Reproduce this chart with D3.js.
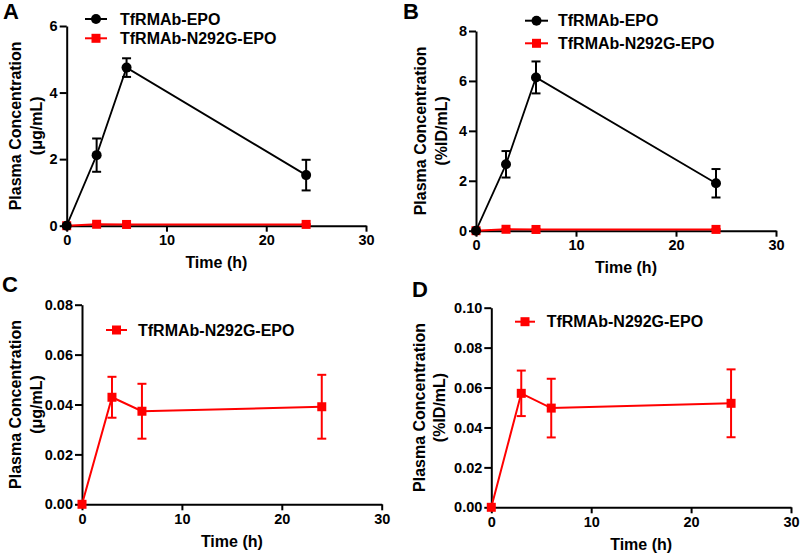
<!DOCTYPE html>
<html>
<head>
<meta charset="utf-8">
<script src="https://cdn.jsdelivr.net/npm/d3@7"></script>
<style>
  html, body { margin: 0; padding: 0; background: #fff; }
  svg { display: block; font-family: "Liberation Sans", Arial, sans-serif; }
</style>
</head>
<body>
<svg id="chart" width="800" height="555"></svg>
<script>
// ---- data ----
const times = [0, 3, 6, 24];
const seriesNames = ["TfRMAb-EPO", "TfRMAb-N292G-EPO"];

const epoUg      = [0, 2.12, 4.75, 1.52];
const epoUgErr   = [0, 0.50, 0.28, 0.46];
const epoPct     = [0, 2.66, 6.14, 1.90];
const epoPctErr  = [0, 0.53, 0.64, 0.57];

const n292Ug     = [0, 0.0429, 0.0373, 0.0391];
const n292UgErr  = [0, 0.0082, 0.0110, 0.0128];
const n292Pct    = [0, 0.0571, 0.0497, 0.0521];
const n292PctErr = [0, 0.0114, 0.0147, 0.0170];

const xTicks  = [0, 10, 20, 30];
const yTicksA = [0, 2, 4, 6];
const yTicksB = [0, 2, 4, 6, 8];
const yTicksC = [0, 0.02, 0.04, 0.06, 0.08];
const yTicksD = [0, 0.02, 0.04, 0.06, 0.08, 0.10];

const panelLabels = ["A", "B", "C", "D"];
const yUnits = ["(\u03BCg/mL)", "(%ID/mL)", "(\u03BCg/mL)", "(%ID/mL)"];

// ---- layout ----
const BLACK = "#000", RED = "#ff0000";
const svg = d3.select("#chart");

const panels = [
  { label: panelLabels[0], x0: 66.7, x1: 366, y0: 225.7, y1: 26, ymax: 6, yTicks: yTicksA, fmt: d3.format("d"),
    unit: yUnits[0], t1x: 15, t2x: 36, lab: [3, 19],
    series: [{ v: n292Ug, e: n292UgErr, c: RED, shape: "square" }, { v: epoUg, e: epoUgErr, c: BLACK, shape: "circle" }],
    legend: { lx0: 85, lx1: 107, tx: 120, rows: [{ y: 19, name: seriesNames[0], c: BLACK, shape: "circle" }, { y: 38.3, name: seriesNames[1], c: RED, shape: "square" }] } },
  { label: panelLabels[1], x0: 476, x1: 776, y0: 230.7, y1: 31, ymax: 8, yTicks: yTicksB, fmt: d3.format("d"),
    unit: yUnits[1], t1x: 420.5, t2x: 441, lab: [403, 19],
    series: [{ v: n292Pct, e: n292PctErr, c: RED, shape: "square" }, { v: epoPct, e: epoPctErr, c: BLACK, shape: "circle" }],
    legend: { lx0: 525, lx1: 548, tx: 558, rows: [{ y: 20.7, name: seriesNames[0], c: BLACK, shape: "circle" }, { y: 43.3, name: seriesNames[1], c: RED, shape: "square" }] } },
  { label: panelLabels[2], x0: 82, x1: 381.7, y0: 504.3, y1: 304.7, ymax: 0.08, yTicks: yTicksC, fmt: d3.format(".2f"),
    unit: yUnits[2], t1x: 15, t2x: 36, lab: [2, 292],
    series: [{ v: n292Ug, e: n292UgErr, c: RED, shape: "square" }],
    legend: { lx0: 106, lx1: 127, tx: 138, rows: [{ y: 330, name: seriesNames[1], c: RED, shape: "square" }] } },
  { label: panelLabels[3], x0: 491.3, x1: 791, y0: 507.3, y1: 307.7, ymax: 0.10, yTicks: yTicksD, fmt: d3.format(".2f"),
    unit: yUnits[3], t1x: 419.5, t2x: 439.5, lab: [412, 297],
    series: [{ v: n292Pct, e: n292PctErr, c: RED, shape: "square" }],
    legend: { lx0: 515, lx1: 535, tx: 546.7, rows: [{ y: 321.7, name: seriesNames[1], c: RED, shape: "square" }] } }
];

function drawMarker(g, shape, cx, cy, color) {
  if (shape === "circle") {
    g.append("circle").attr("cx", cx).attr("cy", cy).attr("r", 5).attr("fill", color);
  } else {
    g.append("rect").attr("x", cx - 4.5).attr("y", cy - 4.5).attr("width", 9).attr("height", 9).attr("fill", color);
  }
}

panels.forEach(p => {
  const g = svg.append("g");
  const x = d3.scaleLinear().domain([0, 30]).range([p.x0, p.x1]);
  const y = d3.scaleLinear().domain([0, p.ymax]).range([p.y0, p.y1]);

  // panel letter
  g.append("text").attr("x", p.lab[0]).attr("y", p.lab[1])
    .attr("font-size", 22).attr("font-weight", "bold").text(p.label);

  // axes
  const xa = g.append("g").attr("transform", `translate(0,${p.y0})`)
    .call(d3.axisBottom(x).tickValues(xTicks).tickFormat(d3.format("d")).tickSize(6).tickSizeOuter(0).tickPadding(3));
  const ya = g.append("g").attr("transform", `translate(${p.x0},0)`)
    .call(d3.axisLeft(y).tickValues(p.yTicks).tickFormat(p.fmt).tickSize(7).tickSizeOuter(0).tickPadding(2));
  [xa, ya].forEach(a => {
    a.select(".domain").attr("stroke", BLACK).attr("stroke-width", 2);
    a.selectAll(".tick line").attr("stroke", BLACK).attr("stroke-width", 2);
    a.selectAll(".tick text").attr("font-size", 14.5).attr("font-weight", "bold").attr("fill", BLACK)
      .attr("font-family", '"Liberation Sans", Arial, sans-serif');
  });

  // axis titles
  g.append("text").attr("x", (p.x0 + p.x1) / 2).attr("y", p.y0 + 37)
    .attr("text-anchor", "middle").attr("dominant-baseline", "central")
    .attr("font-size", 16).attr("font-weight", "bold").text("Time (h)");
  const yc = (p.y0 + p.y1) / 2;
  g.append("text").attr("transform", `translate(${p.t1x},${yc}) rotate(-90)`)
    .attr("text-anchor", "middle").attr("dominant-baseline", "central")
    .attr("font-size", 16).attr("font-weight", "bold").text("Plasma Concentration");
  g.append("text").attr("transform", `translate(${p.t2x},${yc}) rotate(-90)`)
    .attr("text-anchor", "middle").attr("dominant-baseline", "central")
    .attr("font-size", 16).attr("font-weight", "bold").text(p.unit);

  // series
  p.series.forEach(s => {
    const pts = times.map((t, i) => ({ t, v: s.v[i], e: s.e[i] }));
    const line = d3.line().x(d => x(d.t)).y(d => y(d.v));
    g.append("path").datum(pts).attr("d", line).attr("fill", "none")
      .attr("stroke", s.c).attr("stroke-width", s.c === RED ? 2 : 1.8);
    pts.forEach(d => {
      if (d.e > 0) {
        const eg = g.append("g").attr("stroke", s.c).attr("stroke-width", 2);
        eg.append("line").attr("x1", x(d.t)).attr("x2", x(d.t)).attr("y1", y(d.v - d.e)).attr("y2", y(d.v + d.e));
        [d.v - d.e, d.v + d.e].forEach(v => {
          eg.append("line").attr("x1", x(d.t) - 4.5).attr("x2", x(d.t) + 4.5).attr("y1", y(v)).attr("y2", y(v));
        });
      }
      drawMarker(g, s.shape, x(d.t), y(d.v), s.c);
    });
  });

  // legend
  p.legend.rows.forEach(r => {
    g.append("line").attr("x1", p.legend.lx0).attr("x2", p.legend.lx1).attr("y1", r.y).attr("y2", r.y)
      .attr("stroke", r.c).attr("stroke-width", 2);
    drawMarker(g, r.shape, (p.legend.lx0 + p.legend.lx1) / 2, r.y, r.c);
    g.append("text").attr("x", p.legend.tx).attr("y", r.y).attr("dominant-baseline", "central")
      .attr("font-size", 16).attr("font-weight", "bold").text(r.name);
  });
});
</script>
</body>
</html>
